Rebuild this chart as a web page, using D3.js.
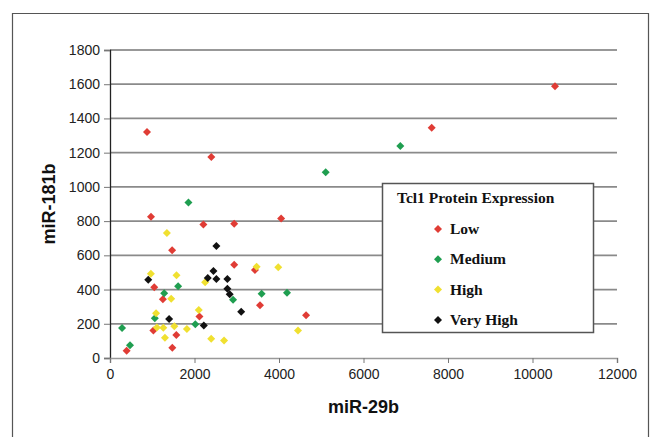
<!DOCTYPE html>
<html>
<head>
<meta charset="utf-8">
<style>
  html, body { margin: 0; padding: 0; background: #fff; }
  svg { display: block; }
  .tick text { font-family: "Liberation Sans", Arial, sans-serif; font-size: 14px; fill: #222; }
  .axis-title { font-family: "Liberation Sans", Arial, sans-serif; font-weight: bold; font-size: 18px; fill: #111; }
  .legend text { font-family: "Liberation Serif", "Times New Roman", serif; font-weight: bold; font-size: 15.5px; fill: #111; }
</style>
</head>
<body>
<svg id="chart" width="657" height="437"></svg>
<script src="https://cdnjs.cloudflare.com/ajax/libs/d3/7.8.5/d3.min.js"></script>
<script>
// values: [miR-29b, miR-181b]
var low = [[876,1321],[2398,1175],[10533,1588],[7614,1346],[970,825],[2210,780],[2940,785],[4050,815],
           [1470,630],[2940,545],[3430,515],[1047,414],[1251,344],[3550,308],[2117,243],[1026,160],
           [1570,134],[1475,60],[394,42],[4640,250]];
var medium = [[6872,1239],[5105,1085],[1857,909],[1613,419],[1283,379],[2912,340],[3589,375],[4190,381],
              [1060,233],[2019,197],[285,175],[473,75]];
var high = [[1346,730],[3471,534],[3982,530],[968,493],[1574,484],[2251,443],[1448,346],[1090,262],
            [2100,280],[1110,178],[1262,177],[1522,185],[1820,170],[1300,118],[2395,112],[2700,103],[4450,160]];
var veryHigh = [[2518,655],[905,458],[2448,509],[2314,468],[2518,462],[2778,462],[2778,404],[2833,373],
                [3105,270],[1400,228],[2220,190]];

var xTicks = [0, 2000, 4000, 6000, 8000, 10000, 12000];
var yTicks = [0, 200, 400, 600, 800, 1000, 1200, 1400, 1600, 1800];

var groups = [
  {name: "Low", color: "#e03c35", data: low},
  {name: "Medium", color: "#1f9e50", data: medium},
  {name: "High", color: "#f0e030", data: high},
  {name: "Very High", color: "#111111", data: veryHigh}
];

var svg = d3.select("#chart");
var plotL = 110, plotR = 617, plotT = 50, plotB = 358;

var x = d3.scaleLinear().domain([0, 12000]).range([plotL, plotR]);
var y = d3.scaleLinear().domain([0, 1800]).range([plotB, plotT]);

// outer frame
svg.append("path")
    .attr("d", "M12.5,440 V13.5 H648.5 V440")
    .attr("fill", "none")
    .attr("stroke", "#555")
    .attr("stroke-width", 1.2);

// gridlines
svg.append("g").selectAll("line")
    .data(yTicks.filter(function(d) { return d > 0; }))
    .enter().append("line")
    .attr("x1", plotL).attr("x2", plotR)
    .attr("y1", function(d) { return y(d); })
    .attr("y2", function(d) { return y(d); })
    .attr("stroke", function(d) { return d === 1800 ? "#333" : "#8a8a8a"; })
    .attr("stroke-width", function(d) { return d === 1800 ? 1.2 : 1.8; });

// axes
var yAxis = svg.append("g")
    .attr("transform", "translate(" + plotL + ",0)")
    .call(d3.axisLeft(y).tickValues(yTicks).tickSize(6).tickPadding(4).tickFormat(d3.format("d")));
var xAxis = svg.append("g")
    .attr("transform", "translate(0," + plotB + ")")
    .call(d3.axisBottom(x).tickValues(xTicks).tickSize(5).tickPadding(6).tickFormat(d3.format("d")));

yAxis.select(".domain").attr("stroke", "#222").attr("stroke-width", 1.3);
xAxis.select(".domain").attr("stroke", "#999").attr("stroke-width", 1.5);
yAxis.selectAll(".tick line").attr("stroke", "#777");
xAxis.selectAll(".tick line").attr("stroke", "#777");

// axis titles
svg.append("text").attr("class", "axis-title")
    .attr("transform", "translate(55," + ((plotT + plotB) / 2) + ") rotate(-90)")
    .attr("text-anchor", "middle")
    .text("miR-181b");
svg.append("text").attr("class", "axis-title")
    .attr("x", (plotL + plotR) / 2).attr("y", 413)
    .attr("text-anchor", "middle")
    .text("miR-29b");

// points
var diamond = d3.symbol().type(d3.symbolSquare).size(32);
groups.forEach(function(g) {
  svg.append("g").selectAll("path")
      .data(g.data)
      .enter().append("path")
      .attr("d", diamond)
      .attr("transform", function(d) { return "translate(" + x(d[0]) + "," + y(d[1]) + ") rotate(45)"; })
      .attr("fill", g.color);
});

// legend
var lg = svg.append("g").attr("class", "legend");
lg.append("rect")
    .attr("x", 382.5).attr("y", 183.5)
    .attr("width", 211).attr("height", 149)
    .attr("fill", "#fff")
    .attr("stroke", "#555")
    .attr("stroke-width", 1.5);
lg.append("text").attr("x", 397).attr("y", 203).text("Tcl1 Protein Expression");
groups.forEach(function(g, i) {
  var cy = 229 + i * 30.3;
  lg.append("path")
      .attr("d", diamond)
      .attr("transform", "translate(438," + cy + ") rotate(45)")
      .attr("fill", g.color);
  lg.append("text").attr("x", 450).attr("y", cy + 5).text(g.name);
});
</script>
</body>
</html>
